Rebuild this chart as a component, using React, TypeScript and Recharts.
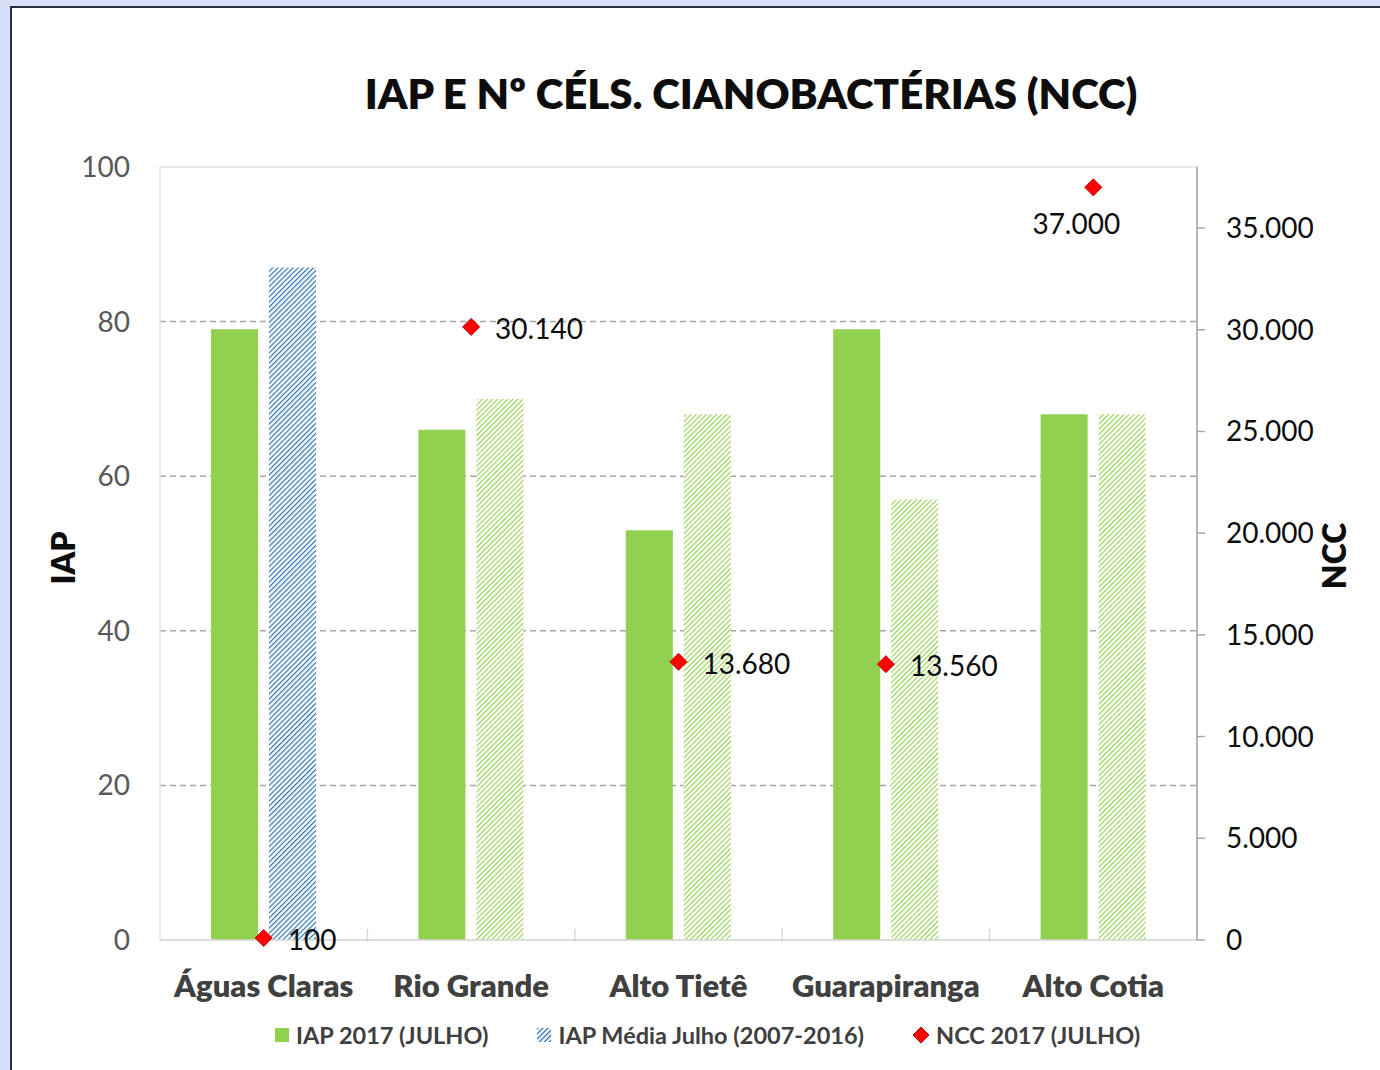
import React from "react";
import {
  Bar,
  CartesianGrid,
  Cell,
  ComposedChart,
  ReferenceArea,
  Scatter,
  XAxis,
  YAxis,
} from "recharts";

const categories = ["Águas Claras", "Rio Grande", "Alto Tietê", "Guarapiranga", "Alto Cotia"];
const iap2017 = [79, 66, 53, 79, 68];
const iapMedia = [87, 70, 68, 57, 68];
const ncc2017 = [100, 30140, 13680, 13560, 37000];
const iapTicks = [0, 20, 40, 60, 80, 100];
const nccTicks = [0, 5000, 10000, 15000, 20000, 25000, 30000, 35000];
const nccLabelBelow = ["Alto Cotia"];

const data = categories.map((name, i) => ({
  name,
  iap: iap2017[i],
  media: iapMedia[i],
  ncc: ncc2017[i],
}));

const FONT = "Lato, 'Open Sans', sans-serif";
const GREEN = "#92d050";
const BLUE = "#2e75b6";

const W = 1380;
const H = 1070;
const X_H = 60;
const M = { top: 167, right: 53, bottom: 70, left: 60 };
const LEFT_W = 100;
const RIGHT_W = 130;
const plotLeft = M.left + LEFT_W;
const plotRight = W - M.right - RIGHT_W;
const band = (plotRight - plotLeft) / categories.length;

const fmt = (v: number) => v.toLocaleString("de-DE");

function CategoryTick(props: any) {
  const { x, y, payload, index } = props;
  return (
    <g>
      {index > 0 && (
        <line x1={x - band / 2} x2={x - band / 2} y1={y} y2={y - 13} stroke="#d9d9d9" strokeWidth={1.5} />
      )}
      <text x={x} y={y + 55} textAnchor="middle" fill="#404040" fontSize={31} fontWeight={800} fontFamily={FONT}>
        {payload.value}
      </text>
    </g>
  );
}

function Diamond(props: any) {
  const { cx, cy, payload } = props;
  if (cx == null || cy == null) return null;
  const r = 8.5;
  const below = nccLabelBelow.includes(payload.name);
  return (
    <g>
      <polygon
        points={`${cx},${cy - r} ${cx + r},${cy} ${cx},${cy + r} ${cx - r},${cy}`}
        fill="#ff0000"
        stroke="#c00000"
        strokeWidth={1}
      />
      {below ? (
        <text x={cx - 17} y={cy + 37} dy="0.35em" textAnchor="middle" fill="#0d0d0d" fontSize={28} fontFamily={FONT}>
          {fmt(payload.ncc)}
        </text>
      ) : (
        <text x={cx + 24} y={cy + 2} dy="0.35em" textAnchor="start" fill="#0d0d0d" fontSize={28} fontFamily={FONT}>
          {fmt(payload.ncc)}
        </text>
      )}
    </g>
  );
}

function AxisTitle({ x, y, text }: { x: number; y: number; text: string }) {
  return (
    <div
      style={{
        position: "absolute",
        left: x,
        top: y,
        transform: "translate(-50%, -50%) rotate(-90deg)",
        fontFamily: FONT,
        fontWeight: 800,
        fontSize: 32,
        color: "#0d0d0d",
        whiteSpace: "nowrap",
      }}
    >
      {text}
    </div>
  );
}

function LegendIcon({ kind }: { kind: string }) {
  if (kind === "square") {
    return (
      <svg width={14} height={14}>
        <rect width={14} height={14} fill={GREEN} />
      </svg>
    );
  }
  if (kind === "hatch") {
    return (
      <svg width={14} height={14}>
        <defs>
          <pattern id="legHatch" width={3.6} height={3.6} patternUnits="userSpaceOnUse" patternTransform="rotate(45)">
            <rect width={3.6} height={3.6} fill="#fff" />
            <line x1={0} y1={0} x2={0} y2={3.6} stroke={BLUE} strokeWidth={2.6} />
          </pattern>
        </defs>
        <rect width={14} height={14} fill="url(#legHatch)" />
      </svg>
    );
  }
  return (
    <svg width={16} height={16}>
      <polygon points="8,0 16,8 8,16 0,8" fill="#ff0000" stroke="#c00000" />
    </svg>
  );
}

const legendItems = [
  { kind: "square", label: "IAP 2017 (JULHO)" },
  { kind: "hatch", label: "IAP Média Julho (2007-2016)" },
  { kind: "diamond", label: "NCC 2017 (JULHO)" },
];

export default function App() {
  return (
    <div style={{ position: "relative", width: W, height: H, background: "#d7dffa", overflow: "hidden" }}>
      <style>{"body{margin:0}"}</style>
      <div
        style={{
          position: "absolute",
          left: 10,
          top: 6,
          right: -10,
          bottom: -10,
          background: "#fff",
          borderLeft: "2.5px solid #2b2d3a",
          borderTop: "2.5px solid #2b2d3a",
        }}
      />
      <div
        style={{
          position: "absolute",
          left: 751,
          top: 93,
          transform: "translate(-50%, -50%)",
          fontFamily: FONT,
          fontWeight: 800,
          fontSize: 42,
          color: "#0d0d0d",
          whiteSpace: "nowrap",
        }}
      >
        IAP E Nº CÉLS. CIANOBACTÉRIAS (NCC)
      </div>
      <div style={{ position: "absolute", left: 0, top: 0 }}>
        <ComposedChart width={W} height={H} data={data} margin={M} barSize={47} barGap={11}>
          <defs>
            <pattern id="hatchBlue" width={3.6} height={3.6} patternUnits="userSpaceOnUse" patternTransform="rotate(45)">
              <rect width={3.6} height={3.6} fill="#fff" />
              <line x1={0} y1={0} x2={0} y2={3.6} stroke={BLUE} strokeWidth={2.4} />
            </pattern>
            <pattern id="hatchGreen" width={3.6} height={3.6} patternUnits="userSpaceOnUse" patternTransform="rotate(45)">
              <rect width={3.6} height={3.6} fill="#fff" />
              <line x1={0} y1={0} x2={0} y2={3.6} stroke={GREEN} strokeWidth={2.2} />
            </pattern>
          </defs>
          <ReferenceArea yAxisId="left" y1={0} y2={100} fill="none" stroke="#e3e3e3" strokeWidth={1.5} />
          <CartesianGrid
            yAxisId="left"
            vertical={false}
            horizontalValues={[20, 40, 60, 80]}
            stroke="#a6a6a6"
            strokeDasharray="6 4"
            strokeWidth={1.5}
          />
          <XAxis
            dataKey="name"
            axisLine={{ stroke: "#d9d9d9", strokeWidth: 1.5 }}
            tickLine={false}
            tickSize={0}
            height={X_H}
            interval={0}
            tick={<CategoryTick />}
          />
          <YAxis
            yAxisId="left"
            domain={[0, 100]}
            ticks={iapTicks}
            width={LEFT_W}
            axisLine={false}
            tickLine={false}
            tickSize={0}
            tickMargin={30}
            tick={{ fill: "#595959", fontSize: 28, fontFamily: FONT }}
          />
          <YAxis
            yAxisId="right"
            orientation="right"
            domain={[0, 38000]}
            ticks={nccTicks}
            width={RIGHT_W}
            axisLine={{ stroke: "#a6a6a6", strokeWidth: 1.5 }}
            tickLine={{ stroke: "#a6a6a6", strokeWidth: 1.5 }}
            tickSize={8}
            tickMargin={21}
            tickFormatter={fmt}
            tick={{ fill: "#0d0d0d", fontSize: 28, fontFamily: FONT, textAnchor: "start" }}
          />
          <Bar yAxisId="left" dataKey="iap" fill={GREEN} isAnimationActive={false} />
          <Bar yAxisId="left" dataKey="media" isAnimationActive={false}>
            {data.map((d, i) => (
              <Cell key={d.name} fill={i === 0 ? "url(#hatchBlue)" : "url(#hatchGreen)"} />
            ))}
          </Bar>
          <Scatter yAxisId="right" dataKey="ncc" shape={<Diamond />} isAnimationActive={false} />
        </ComposedChart>
      </div>
      <AxisTitle x={62} y={558} text="IAP" />
      <AxisTitle x={1333} y={556} text="NCC" />
      <div
        style={{
          position: "absolute",
          left: 275,
          top: 1035,
          transform: "translateY(-50%)",
          display: "flex",
          alignItems: "center",
          gap: 49,
          fontFamily: FONT,
          fontWeight: 700,
          fontSize: 23.5,
          color: "#404040",
          whiteSpace: "nowrap",
        }}
      >
        {legendItems.map((it) => (
          <div key={it.label} style={{ display: "flex", alignItems: "center", gap: 7 }}>
            <LegendIcon kind={it.kind} />
            <span>{it.label}</span>
          </div>
        ))}
      </div>
    </div>
  );
}
